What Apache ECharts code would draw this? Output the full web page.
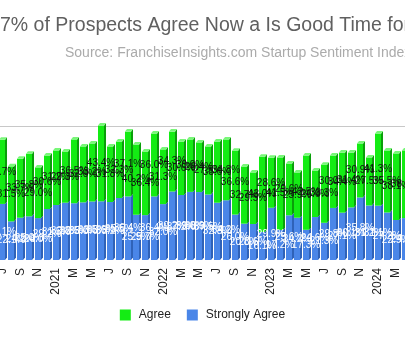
<!DOCTYPE html>
<html>
<head>
<meta charset="utf-8">
<script src="https://cdn.jsdelivr.net/npm/echarts@6/dist/echarts.min.js"></script>
<style>
  html, body { margin: 0; padding: 0; width: 405px; height: 338px; overflow: hidden; background: #fff; }
  #chart { position: absolute; left: -100px; top: 0; width: 605px; height: 338px; }
</style>
</head>
<body>
<div id="chart"></div>
<script>
// Monthly survey periods
const months = [
  'Jul 2020','Aug 2020','Sep 2020','Oct 2020','Nov 2020','Dec 2020',
  'Jan 2021','Feb 2021','Mar 2021','Apr 2021','May 2021','Jun 2021',
  'Jul 2021','Aug 2021','Sep 2021','Oct 2021','Nov 2021','Dec 2021',
  'Jan 2022','Feb 2022','Mar 2022','Apr 2022','May 2022','Jun 2022',
  'Jul 2022','Aug 2022','Sep 2022','Oct 2022','Nov 2022','Dec 2022',
  'Jan 2023','Feb 2023','Mar 2023','Apr 2023','May 2023','Jun 2023',
  'Jul 2023','Aug 2023','Sep 2023','Oct 2023','Nov 2023','Dec 2023',
  'Jan 2024','Feb 2024','Mar 2024','Apr 2024'
];

// Axis labels: month initial, year on January
const tickLabels = [
  'J','A','S','O','N','D',
  '2021','F','M','A','M','J','J','A','S','O','N','D',
  '2022','F','M','A','M','J','J','A','S','O','N','D',
  '2023','F','M','A','M','J','J','A','S','O','N','D',
  '2024','F','M','A'
];

// Share of prospects (%) answering "Strongly Agree"
const stronglyAgree = [
  32.1, 22.1, 24.2, 25.0, 24.0, 29.2,
  31.5, 32.8, 32.5, 33.0, 33.5, 33.6, 33.2, 35.5, 36.4, 25.9, 25.7, 36.4,
  32.0, 39.2, 37.2, 39.0, 38.9, 37.5, 32.8, 34.2, 26.0, 20.8, 20.6, 16.1,
  29.9, 17.2, 25.6, 24.2, 17.3, 24.6, 21.3, 29.8, 27.1, 30.1, 35.8, 31.2,
  31.1, 27.2, 22.9, 24.0
];

// Share of prospects (%) answering "Agree"
const agree = [
  36.7, 31.5, 33.7, 35.8, 29.0, 30.6,
  31.2, 29.3, 36.5, 32.0, 33.2, 43.4, 31.8, 32.3, 37.1, 40.2, 36.4, 36.0,
  31.3, 34.3, 30.6, 30.0, 28.4, 27.5, 35.0, 34.8, 36.6, 32.7, 29.5, 43.0,
  28.6, 41.5, 29.6, 25.9, 42.5, 26.6, 33.3, 30.0, 34.4, 31.4, 30.9, 27.5,
  41.3, 35.5, 38.1, 38.7
];

// Horizontal rule on the back wall
const gridLines = [75];

const titleText = '7% of Prospects Agree Now a Is Good Time for';
const subtitleText = 'Source: FranchiseInsights.com Startup Sentiment Index';

// 3D column geometry (pixels)
const FRONT_W = 6;
const DEPTH_X = 2;
const DEPTH_Y = 2.5;

const FONT = 'Liberation Sans, Arial, sans-serif';

const palette = {
  green: { front: '#14ec14', side: '#0a9e0a', top: '#78f778', label: '#111111' },
  blue:  { front: '#4a86e8', side: '#2f62b8', top: '#82aaf0', label: '#ffffff' }
};

function column(colors, withTop, labelZ) {
  return function (params, api) {
    const i = api.value(0);
    const lo = api.value(1);
    const hi = api.value(2);
    const v = api.value(3);
    const p0 = api.coord([i, lo]);
    const p1 = api.coord([i, hi]);
    const x0 = Math.round(p0[0] - FRONT_W / 2);
    const x1 = x0 + FRONT_W;
    const yb = p0[1];
    const yt = p1[1];
    const children = [
      {
        type: 'polygon',
        shape: { points: [[x1, yt], [x1 + DEPTH_X, yt - DEPTH_Y], [x1 + DEPTH_X, yb - DEPTH_Y], [x1, yb]] },
        style: { fill: colors.side }
      },
      {
        type: 'rect',
        shape: { x: x0, y: yt, width: FRONT_W, height: yb - yt },
        style: { fill: colors.front }
      }
    ];
    if (withTop) {
      children.push({
        type: 'polygon',
        shape: { points: [[x0, yt], [x0 + DEPTH_X, yt - DEPTH_Y], [x1 + DEPTH_X, yt - DEPTH_Y], [x1, yt]] },
        style: { fill: colors.top }
      });
    }
    children.push({
      type: 'text',
      z2: labelZ,
      style: {
        text: v.toFixed(1) + '%',
        x: (x0 + x1) / 2,
        y: (yt + yb) / 2,
        align: 'center',
        verticalAlign: 'middle',
        fill: colors.label,
        font: '10px ' + FONT
      }
    });
    return { type: 'group', children: children };
  };
}

const blueData = months.map((m, i) => [i, 0, stronglyAgree[i], stronglyAgree[i]]);
const greenData = months.map((m, i) => [i, stronglyAgree[i], stronglyAgree[i] + agree[i], agree[i]]);

const chart = echarts.init(document.getElementById('chart'), null, { renderer: 'canvas' });

chart.setOption({
  animation: false,
  backgroundColor: '#ffffff',
  title: [
    {
      text: titleText, left: 100, top: 16, padding: 0,
      textStyle: { fontSize: 19.5, fontWeight: 'normal', color: '#606060', fontFamily: FONT }
    },
    {
      text: subtitleText, left: 165, top: 46, padding: 0,
      textStyle: { fontSize: 14, fontWeight: 'normal', color: '#ababab', fontFamily: FONT }
    }
  ],
  legend: {
    data: ['Agree', 'Strongly Agree'],
    left: 'center',
    top: 304,
    icon: 'rect',
    itemWidth: 11,
    itemHeight: 11,
    itemGap: 16,
    textStyle: { fontSize: 12, color: '#222', fontFamily: FONT, padding: [0, 0, 0, 3] }
  },
  grid: { left: 97.87, top: 120.26, width: 411.4, height: 139.74 },
  xAxis: {
    type: 'category',
    data: months,
    axisLine: { show: false },
    axisTick: { show: false },
    axisLabel: {
      interval: 1,
      rotate: 90,
      margin: 8,
      fontSize: 12,
      color: '#222',
      fontFamily: FONT,
      formatter: (value, idx) => tickLabels[idx]
    }
  },
  yAxis: { type: 'value', min: 0, max: 80, show: false },
  series: [
    {
      name: 'wall',
      type: 'custom',
      silent: true,
      z: 1,
      data: [[0]],
      renderItem: function (params, api) {
        const cs = params.coordSys;
        return {
          type: 'group',
          children: gridLines.map(g => {
            const y = Math.round(api.coord([0, g])[1] - DEPTH_Y) + 0.5;
            return {
              type: 'line',
              shape: { x1: cs.x, y1: y, x2: cs.x + cs.width + DEPTH_X, y2: y },
              style: { stroke: '#c8c8c8', lineWidth: 1 }
            };
          })
        };
      }
    },
    {
      name: 'Strongly Agree',
      type: 'custom',
      itemStyle: { color: palette.blue.front },
      encode: { x: 0, y: [1, 2] },
      data: blueData,
      renderItem: column(palette.blue, false, 100)
    },
    {
      name: 'Agree',
      type: 'custom',
      itemStyle: { color: palette.green.front },
      encode: { x: 0, y: [1, 2] },
      data: greenData,
      renderItem: column(palette.green, true, 101)
    }
  ]
});
</script>
</body>
</html>
